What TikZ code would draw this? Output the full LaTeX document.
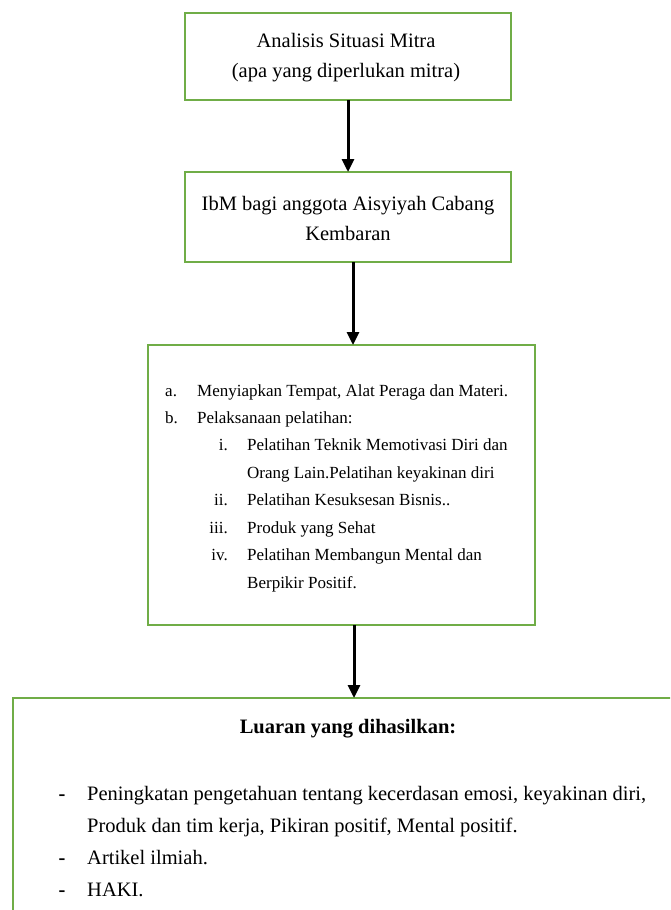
\documentclass[tikz,border=0pt]{standalone}
\usepackage{fontspec}
\setmainfont{Liberation Serif}
\usetikzlibrary{arrows.meta}
\definecolor{boxgreen}{RGB}{112,173,71}
\tikzset{
  box/.style={draw=boxgreen, line width=2pt, inner sep=0pt, outer sep=0pt},
  flow/.style={line width=3pt, -{Triangle[length=13pt,width=12pt]}},
  big/.style={font=\fontsize{20.5}{29.5}\selectfont, inner sep=0pt},
  bigb/.style={font=\fontsize{20.5}{29.5}\selectfont\bfseries, inner sep=0pt},
  small/.style={font=\fontsize{17}{27.4}\selectfont, inner sep=0pt},
}
\begin{document}
\begin{tikzpicture}[x=1pt,y=-1pt]
\useasboundingbox (0,0) rectangle (670,910);
\clip (0,0) rectangle (670,910);
% boxes
\node[box, minimum width=326pt, minimum height=87pt] (b1) at (348,56.5) {};
\node[box, minimum width=326pt, minimum height=90pt] (b2) at (348,217) {};
\node[box, minimum width=387pt, minimum height=280pt] (b3) at (341.5,485) {};
\node[box, minimum width=680pt, minimum height=240pt] (b4) at (353,818) {};
% arrows
\coordinate (x1) at (348,0);
\coordinate (x2) at (353,0);
\coordinate (x3) at (354,0);
\draw[flow] (b1.south -| x1) -- (b2.north -| x1);
\draw[flow] (b2.south -| x2) -- (b3.north -| x2);
\draw[flow] (b3.south -| x3) -- (b4.north -| x3);
% box 1 text (base anchor = last line baseline)
\node[big, align=center, anchor=base] (t1) at (346,77) {Analisis Situasi Mitra\\(apa yang diperlukan mitra)};
% box 2 text
\node[big, align=center, anchor=base] (t2) at (348,240) {IbM bagi anggota Aisyiyah Cabang\\Kembaran};
% box 3 text
\node[small, anchor=base west] (la) at (165,396) {a.};
\node[small, anchor=base west] (ta) at (197,396) {Menyiapkan Tempat, Alat Peraga dan Materi.};
\node[small, anchor=base west] (lb) at (165,423) {b.};
\node[small, anchor=base west] (tb) at (197,423) {Pelaksanaan pelatihan:};
\node[small, anchor=base east] (l1) at (228,450) {i.};
\node[small, anchor=base west] (t1a) at (247,450) {Pelatihan Teknik Memotivasi Diri dan};
\node[small, anchor=base west] (t1b) at (247,478) {Orang Lain.Pelatihan keyakinan diri};
\node[small, anchor=base east] (l2) at (228,505) {ii.};
\node[small, anchor=base west] (t2a) at (247,505) {Pelatihan Kesuksesan Bisnis..};
\node[small, anchor=base east] (l3) at (228,533) {iii.};
\node[small, anchor=base west] (t3a) at (247,533) {Produk yang Sehat};
\node[small, anchor=base east] (l4) at (228,560) {iv.};
\node[small, anchor=base west] (t4a) at (247,560) {Pelatihan Membangun Mental dan};
\node[small, anchor=base west] (t4b) at (247,588) {Berpikir Positif.};
% box 4 text
\node[bigb, anchor=base] (title) at (348,733) {Luaran yang dihasilkan:};
\node[bigb, anchor=base] (d1) at (62,800) {-};
\node[big, anchor=base west] (o1a) at (87,800) {Peningkatan pengetahuan tentang kecerdasan emosi, keyakinan diri,};
\node[big, anchor=base west] (o1b) at (87,832) {Produk dan tim kerja, Pikiran positif, Mental positif.};
\node[bigb, anchor=base] (d2) at (62,864) {-};
\node[big, anchor=base west] (o2) at (87,864) {Artikel ilmiah.};
\node[bigb, anchor=base] (d3) at (62,896) {-};
\node[big, anchor=base west] (o3) at (87,896) {HAKI.};
\end{tikzpicture}
\end{document}
